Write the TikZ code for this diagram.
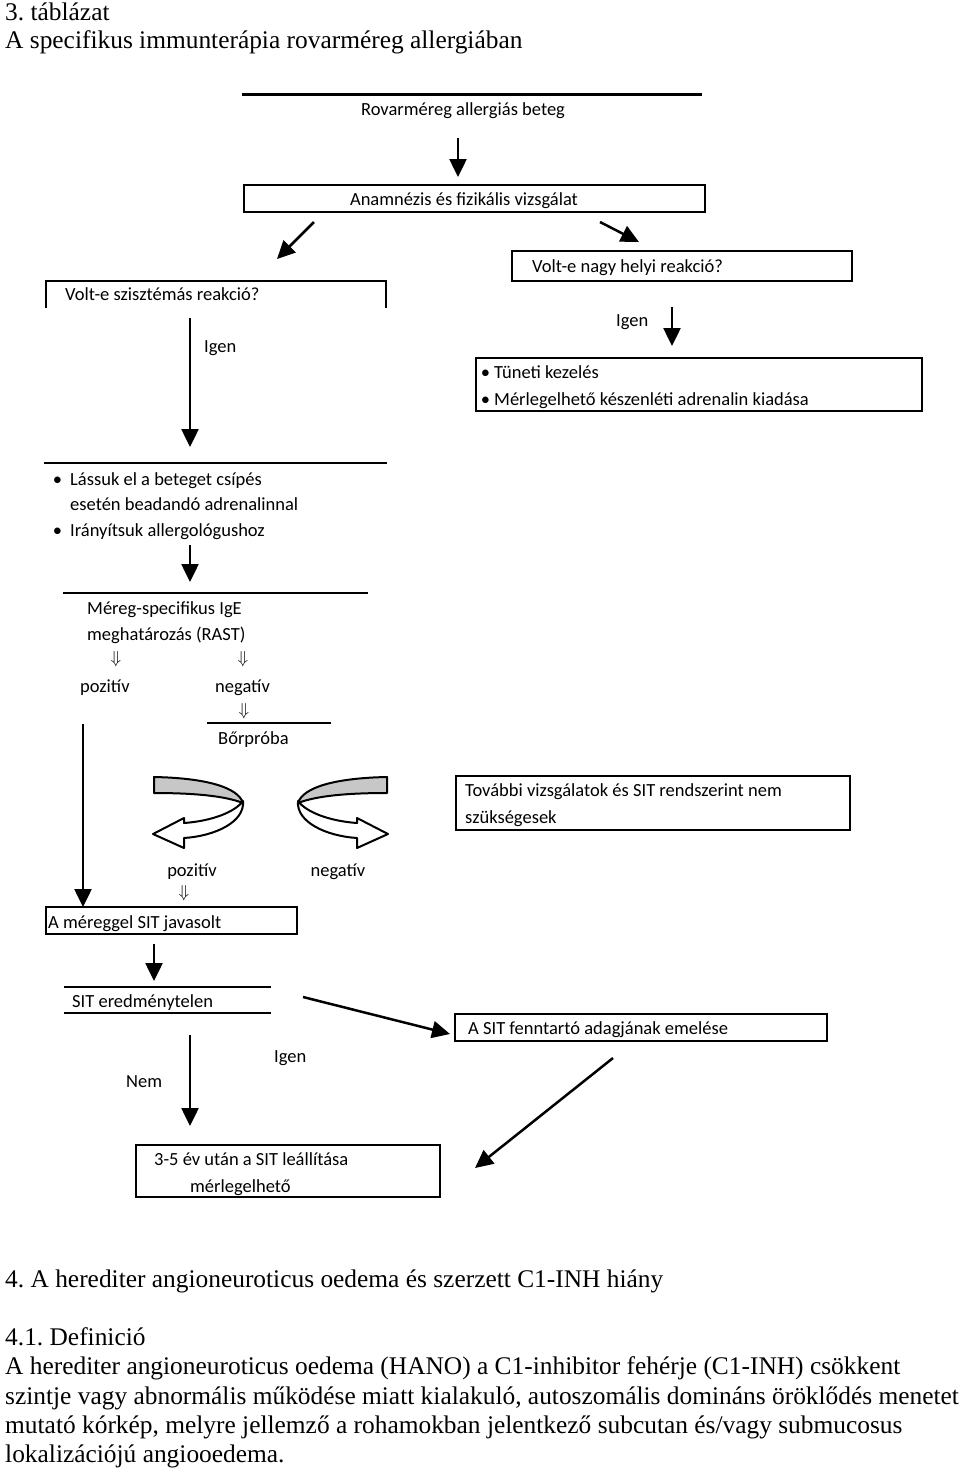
\documentclass[tikz,border=0pt]{standalone}
\usepackage{fontspec}
\setmainfont{Liberation Serif}
\newfontfamily\dia{Carlito}
\usetikzlibrary{arrows.meta}
\frenchspacing
\begin{document}
\begin{tikzpicture}[x=1pt,y=-1pt,
  lbl/.style={font=\dia\fontsize{18.5}{20}\selectfont, inner sep=0pt, anchor=west, text height=11pt, text depth=0pt},
  body/.style={font=\fontsize{25.4}{28}\selectfont, inner sep=0pt, anchor=west, text height=16.5pt, text depth=0pt},
  box/.style={draw, line width=2.5pt, inner sep=0pt},
  arr/.style={line width=2.5pt, -{Triangle[width=17pt,length=18pt]}},
  rule/.style={line width=2.5pt},
  thinrule/.style={line width=1.6pt},
  dbl/.style={font=\fontsize{19}{20}\selectfont, inner sep=0pt},
  ribbon/.style={draw, line width=2pt, line join=round},
]
\useasboundingbox (0,0) rectangle (960,1468);

% titles
\node[body] (t1) at (5,12) {3. táblázat};
\node[body] (t2) at (5,40) {A specifikus immunterápia rovarméreg allergiában};

% top
\coordinate (r1a) at (242,94); \coordinate (r1b) at (702,94);
\draw[rule, line width=3pt] (r1a) -- (r1b);
\node[lbl, anchor=center] (rov) at (463,110) {Rovarméreg allergiás beteg};
\coordinate (a1s) at (458,138); \coordinate (a1e) at (458,177);
\draw[arr] (a1s) -- (a1e);

\node[box, minimum width=461, minimum height=27] (anamBox) at (474.5,198.5) {};
\node[lbl, anchor=center] (anam) at (464,200) {Anamnézis és fizikális vizsgálat};

\coordinate (dl1) at (314,222); \coordinate (dl2) at (277,259);
\draw[arr] (dl1) -- (dl2);
\coordinate (dr1) at (600,222); \coordinate (dr2) at (639,242);
\draw[arr] (dr1) -- (dr2);

% right branch
\node[box, minimum width=340, minimum height=30] (nagyBox) at (682,266) {};
\node[lbl] (nagy) at (532,267) {Volt-e nagy helyi reakció?};
\node[lbl] (igen2) at (616,321) {Igen};
\coordinate (a2s) at (672,307); \coordinate (a2e) at (672,346);
\draw[arr] (a2s) -- (a2e);
\node[box, minimum width=446, minimum height=53] (tunBox) at (699,384.5) {};
\node[lbl] (tun1) at (494,373) {\llap{•\hspace{4pt}}Tüneti kezelés};
\node[lbl] (tun2) at (494,400) {\llap{•\hspace{4pt}}Mérlegelhető készenléti adrenalin kiadása};

% left branch
\coordinate (s1) at (46,307); \coordinate (s2) at (46,281);
\coordinate (s3) at (386,281); \coordinate (s4) at (386,307);
\draw[rule, line cap=rect] (s1) -- (s2) -- (s3) -- (s4);
\node[lbl] (szisz) at (65,295) {Volt-e szisztémás reakció?};
\coordinate (a3s) at (190,318); \coordinate (a3e) at (190,447);
\draw[arr] (a3s) -- (a3e);
\node[lbl] (igen1) at (204,347) {Igen};

\coordinate (l1a) at (44,463); \coordinate (l1b) at (387,463);
\draw[thinrule] (l1a) -- (l1b);
\node[lbl] (las1) at (70,480) {\llap{•\hspace{8pt}}Lássuk el a beteget csípés};
\node[lbl] (las2) at (70,505) {esetén beadandó adrenalinnal};
\node[lbl] (las3) at (70,531) {\llap{•\hspace{8pt}}Irányítsuk allergológushoz};
\coordinate (a4s) at (190,545); \coordinate (a4e) at (190,582);
\draw[arr] (a4s) -- (a4e);

\coordinate (l2a) at (63,593); \coordinate (l2b) at (368,593);
\draw[rule] (l2a) -- (l2b);
\node[lbl] (mer1) at (87,609) {Méreg-specifikus IgE};
\node[lbl] (mer2) at (87,635) {meghatározás (RAST)};
\node[dbl] (d1) at (116,659) {$\Downarrow$};
\node[dbl] (d2) at (243,659) {$\Downarrow$};
\node[lbl] (poz1) at (80,687) {pozitív};
\node[lbl] (neg1) at (215,687) {negatív};
\node[dbl] (d3) at (244,711) {$\Downarrow$};
\coordinate (l3a) at (207,723); \coordinate (l3b) at (331,723);
\draw[rule] (l3a) -- (l3b);
\node[lbl] (bor) at (218,739) {Bőrpróba};

\coordinate (a5s) at (83,724); \coordinate (a5e) at (83,907);
\draw[arr] (a5s) -- (a5e);

% ribbon arrows
\begin{scope}
  \draw[ribbon, fill=white] (243,801) .. controls (245,822) and (215,836) .. (184,838)
     -- (184,848) -- (153,834) -- (184,818) -- (184,823)
     .. controls (212,821) and (235,812) .. (243,801) -- cycle;
  \draw[ribbon, fill=black!22] (154,777) .. controls (205,778) and (238,787) .. (243,803)
     .. controls (225,796) and (195,793) .. (154,793) -- cycle;
\end{scope}
\begin{scope}[shift={(541,0)}, xscale=-1]
  \draw[ribbon, fill=white] (243,801) .. controls (245,822) and (215,836) .. (184,838)
     -- (184,848) -- (153,834) -- (184,818) -- (184,823)
     .. controls (212,821) and (235,812) .. (243,801) -- cycle;
  \draw[ribbon, fill=black!22] (154,777) .. controls (205,778) and (238,787) .. (243,803)
     .. controls (225,796) and (195,793) .. (154,793) -- cycle;
\end{scope}

\node[box, minimum width=394, minimum height=54] (tovBox) at (653,803) {};
\node[lbl] (tov1) at (465,791) {További vizsgálatok és SIT rendszerint nem};
\node[lbl] (tov2) at (465,818) {szükségesek};

\node[lbl, anchor=center] (poz2) at (192,871) {pozitív};
\node[dbl] (d4) at (184,893) {$\Downarrow$};
\node[lbl, anchor=center] (neg2) at (338,871) {negatív};

\node[box, minimum width=251, minimum height=27] (javBox) at (171.5,920.5) {};
\node[lbl] (jav) at (48,923) {A méreggel SIT javasolt};
\coordinate (a6s) at (154,944); \coordinate (a6e) at (154,981);
\draw[arr] (a6s) -- (a6e);

\coordinate (l4a) at (64,987); \coordinate (l4b) at (271,987);
\coordinate (l5a) at (64,1013); \coordinate (l5b) at (271,1013);
\draw[thinrule, line width=2pt] (l4a) -- (l4b);
\draw[thinrule, line width=2pt] (l5a) -- (l5b);
\node[lbl] (erd) at (72,1002) {SIT eredménytelen};

\coordinate (a7s) at (303,997); \coordinate (a7e) at (450,1034);
\draw[arr] (a7s) -- (a7e);
\node[box, minimum width=372, minimum height=27] (fennBox) at (641,1027.5) {};
\node[lbl] (fenn) at (468,1029) {A SIT fenntartó adagjának emelése};

\coordinate (a8s) at (190,1035); \coordinate (a8e) at (190,1126);
\draw[arr] (a8s) -- (a8e);
\node[lbl] (igen3) at (274,1057) {Igen};
\node[lbl] (nem) at (126,1082) {Nem};

\node[box, minimum width=304, minimum height=52] (leallBox) at (288,1171) {};
\node[lbl] (leall1) at (154,1160) {3-5 év után a SIT leállítása};
\node[lbl] (leall2) at (190,1187) {mérlegelhető};
\coordinate (a9s) at (613,1058); \coordinate (a9e) at (475,1168);
\draw[arr] (a9s) -- (a9e);

% body text
\node[body] (h4) at (5,1279) {4. A herediter angioneuroticus oedema és szerzett C1-INH hiány};
\node[body] (h41) at (5,1337) {4.1. Definició};
\node[body] (p1) at (5,1366) {A herediter angioneuroticus oedema (HANO) a C1-inhibitor fehérje (C1-INH) csökkent};
\node[body] (p2) at (5,1396) {szintje vagy abnormális működése miatt kialakuló, autoszomális domináns öröklődés menetet};
\node[body] (p3) at (5,1425) {mutató kórkép, melyre jellemző a rohamokban jelentkező subcutan és/vagy submucosus};
\node[body] (p4) at (5,1454) {lokalizációjú angiooedema.};
\end{tikzpicture}
\end{document}
